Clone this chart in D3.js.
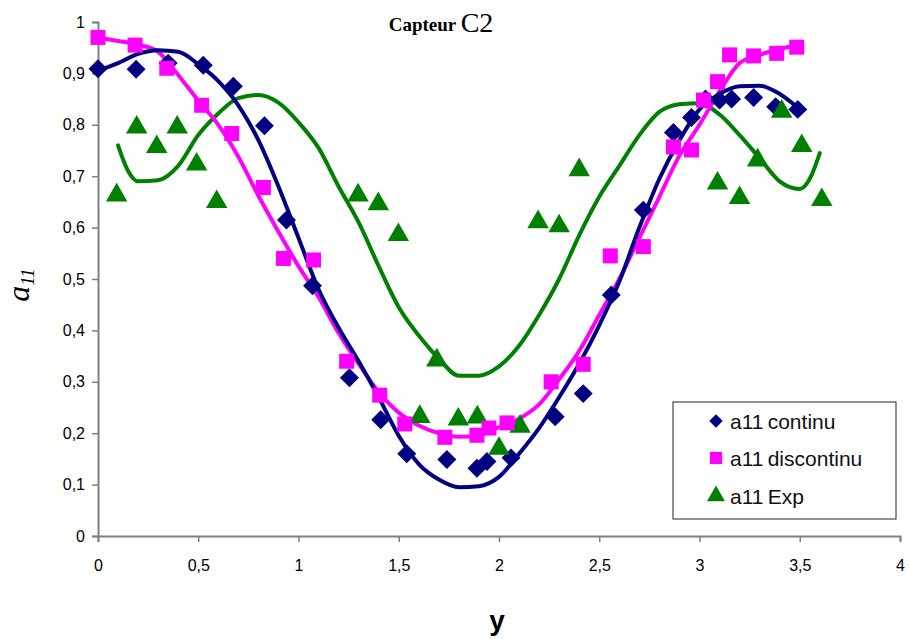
<!DOCTYPE html>
<html><head><meta charset="utf-8">
<script src="https://cdn.jsdelivr.net/npm/d3@7"></script>
<style>body{margin:0;background:#fff}svg{display:block}</style>
</head><body><svg id="c" width="909" height="639"></svg>
<script>
// Data
const contX = [0,0.19,0.35,0.525,0.675,0.83,0.94,1.07,1.254,1.41,1.54,1.74,1.89,1.94,2.06,2.28,2.42,2.56,2.72,2.87,2.96,3.03,3.10,3.16,3.27,3.38,3.49];
const contY = [0.909,0.908,0.92,0.916,0.875,0.798,0.615,0.487,0.308,0.226,0.16,0.149,0.132,0.145,0.152,0.232,0.277,0.469,0.634,0.785,0.814,0.85,0.848,0.85,0.853,0.835,0.83];
const discX = [0,0.185,0.343,0.517,0.667,0.825,0.925,1.075,1.24,1.405,1.53,1.73,1.89,1.95,2.04,2.26,2.42,2.555,2.72,2.87,2.96,3.02,3.09,3.15,3.27,3.385,3.485];
const discY = [0.97,0.955,0.91,0.838,0.783,0.678,0.54,0.537,0.34,0.274,0.218,0.192,0.196,0.21,0.22,0.30,0.334,0.545,0.563,0.757,0.751,0.848,0.884,0.936,0.934,0.939,0.951];
const expX = [0.093,0.193,0.293,0.395,0.492,0.592,1.297,1.398,1.498,1.605,1.69,1.797,1.892,2.0,2.105,2.195,2.30,2.40,3.09,3.2,3.29,3.41,3.51,3.61];
const expY = [0.663,0.795,0.757,0.795,0.723,0.65,0.663,0.646,0.586,0.232,0.342,0.227,0.231,0.17,0.213,0.611,0.603,0.712,0.686,0.658,0.731,0.826,0.759,0.654];
// Trend curves
const fitContX = [0,0.1,0.2,0.3,0.4,0.5,0.6,0.7,0.8,0.9,1.0,1.1,1.2,1.3,1.4,1.5,1.6,1.7,1.8,1.9,2.0,2.1,2.2,2.3,2.4,2.5,2.6,2.7,2.8,2.9,3.0,3.1,3.2,3.3,3.4,3.5];
const fitContY = [0.905,0.92,0.938,0.945,0.942,0.918,0.885,0.838,0.77,0.68,0.58,0.48,0.405,0.34,0.27,0.195,0.14,0.11,0.095,0.097,0.115,0.16,0.21,0.27,0.335,0.41,0.495,0.6,0.695,0.77,0.83,0.86,0.875,0.876,0.86,0.83];
const fitDiscX = [0,0.1,0.2,0.3,0.4,0.5,0.6,0.7,0.8,0.9,1.0,1.1,1.2,1.3,1.4,1.5,1.6,1.7,1.8,1.9,2.0,2.1,2.2,2.3,2.4,2.5,2.6,2.7,2.8,2.9,3.0,3.1,3.2,3.3,3.4,3.45];
const fitDiscY = [0.97,0.963,0.956,0.942,0.897,0.847,0.8,0.738,0.662,0.592,0.525,0.465,0.395,0.335,0.28,0.24,0.215,0.2,0.193,0.196,0.212,0.228,0.256,0.305,0.36,0.43,0.5,0.58,0.66,0.74,0.8,0.865,0.92,0.936,0.948,0.952];
const fitExpX = [0.1,0.15,0.2,0.3,0.4,0.5,0.6,0.7,0.8,0.9,1.0,1.1,1.2,1.3,1.4,1.5,1.6,1.7,1.8,1.9,2.0,2.1,2.2,2.3,2.4,2.5,2.6,2.7,2.8,2.9,3.0,3.1,3.2,3.3,3.4,3.5,3.55,3.6];
const fitExpY = [0.76,0.71,0.69,0.692,0.72,0.78,0.822,0.852,0.858,0.843,0.805,0.755,0.68,0.61,0.525,0.445,0.39,0.345,0.312,0.312,0.33,0.37,0.43,0.5,0.585,0.66,0.72,0.78,0.825,0.84,0.842,0.82,0.78,0.735,0.69,0.675,0.695,0.745];
const xTicks = [0,0.5,1,1.5,2,2.5,3,3.5,4];
const yTicks = [0,0.1,0.2,0.3,0.4,0.5,0.6,0.7,0.8,0.9,1];
const seriesNames = ["a11 continu","a11 discontinu","a11 Exp"];
const colors = ["#000080","#ff00ff","#008000"];

const svg = d3.select("#c");
const x = d3.scaleLinear().domain([0,4]).range([98,900]);
const y = d3.scaleLinear().domain([0,1]).range([536,22]);
const fmt = d => String(d).replace(".", ",");

// axes
const gx = svg.append("g").attr("transform","translate(0,536)")
  .call(d3.axisBottom(x).tickValues(xTicks).tickFormat(fmt).tickSize(6).tickPadding(18));
const gy = svg.append("g").attr("transform","translate(98,0)")
  .call(d3.axisLeft(y).tickValues(yTicks).tickFormat(fmt).tickSize(6).tickPadding(7));
[gx,gy].forEach(g=>{
  g.select(".domain").attr("stroke","#808080").attr("stroke-width",2);
  g.selectAll(".tick line").attr("stroke","#808080").attr("stroke-width",1.5);
  g.selectAll(".tick text").attr("font-family","Liberation Sans, Arial, sans-serif").attr("font-size",16).attr("fill","#000");
});

// trend lines
const line = d3.line().x(d=>x(d[0])).y(d=>y(d[1])).curve(d3.curveMonotoneX);
const fits = [[fitContX,fitContY],[fitDiscX,fitDiscY],[fitExpX,fitExpY]];
[2,1,0].forEach(i=>{
  const pts = fits[i][0].map((v,k)=>[v,fits[i][1][k]]);
  svg.append("path").datum(pts).attr("d",line).attr("fill","none")
    .attr("stroke",colors[i]).attr("stroke-width",4).attr("stroke-linejoin","round").attr("stroke-linecap","round");
});

// markers
const marks = [[contX,contY,180],[discX,discY,225],[expX,expY,200]];
function marker(i, size){
  if(i===2) return d3.symbol(d3.symbolTriangle, size)();
  return d3.symbol(d3.symbolSquare, size)();
}
[0,2,1].forEach(i=>{
  const [xs,ys,s] = marks[i];
  svg.append("g").selectAll("path").data(xs.map((v,k)=>[v,ys[k]])).join("path")
    .attr("d", marker(i,s))
    .attr("transform", d=>`translate(${x(d[0])},${y(d[1])})` + (i===0?" rotate(45)":""))
    .attr("fill", colors[i]);
});

// title
const t = svg.append("text").attr("x",441).attr("y",31).attr("text-anchor","middle")
  .attr("font-family","Liberation Serif, Times New Roman, serif");
t.append("tspan").attr("font-weight","bold").attr("font-size",19).text("Capteur ");
t.append("tspan").attr("font-size",28).attr("dy",1).text("C2");

// axis labels
svg.append("text").attr("x",497).attr("y",630).attr("text-anchor","middle")
  .attr("font-family","Liberation Sans, Arial, sans-serif").attr("font-weight","bold").attr("font-size",28).text("y");
const yl = svg.append("text").attr("transform","translate(29,285) rotate(-90)").attr("text-anchor","middle")
  .attr("font-family","Liberation Serif, Times New Roman, serif").attr("font-style","italic");
yl.append("tspan").attr("font-size",32).text("a");
yl.append("tspan").attr("font-size",19).attr("dy",5).text("11");

// legend
const lg = svg.append("g");
lg.append("rect").attr("x",673).attr("y",402).attr("width",223).attr("height",117)
  .attr("fill","#fff").attr("stroke","#222").attr("stroke-width",1);
const rowsY = [421,458,496];
seriesNames.forEach((n,i)=>{
  lg.append("path").attr("d", marker(i, i===0?90:i===1?150:140))
    .attr("transform",`translate(716,${rowsY[i]})`+(i===0?" rotate(45)":"")).attr("fill",colors[i]);
  lg.append("text").attr("x",730).attr("y",rowsY[i]+8)
    .attr("font-family","Liberation Sans, Arial, sans-serif").attr("font-size",21).attr("fill","#111").text(n.replace(" ","\u2009"));
});
</script></body></html>
